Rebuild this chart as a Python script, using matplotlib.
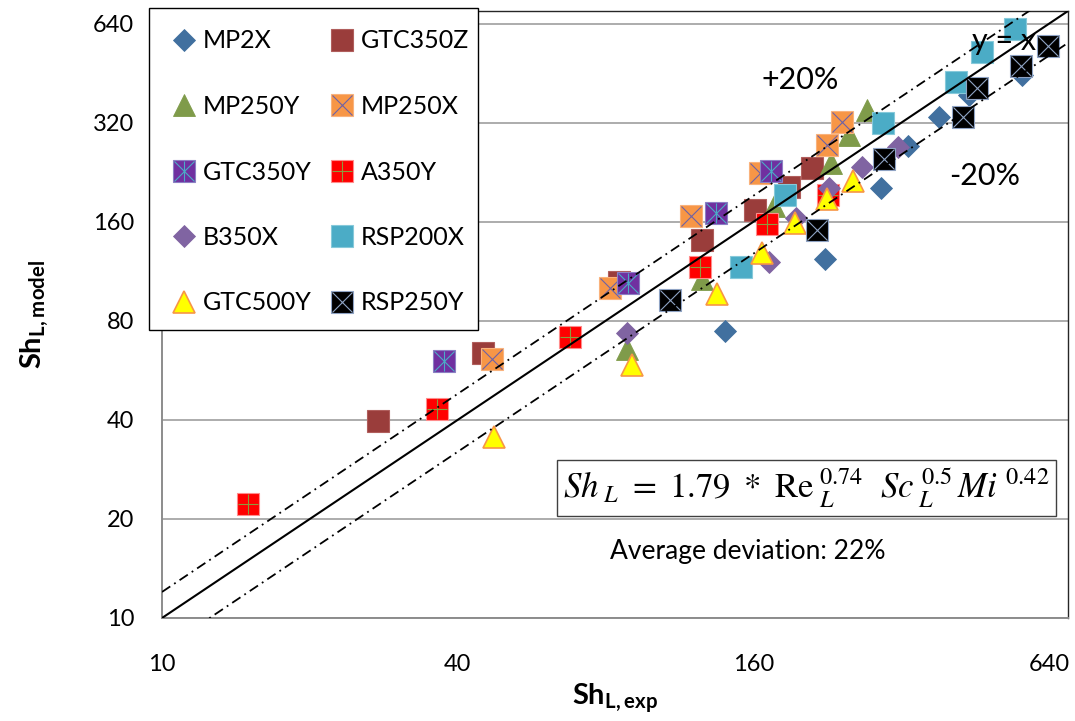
import matplotlib
matplotlib.use("Agg")
import matplotlib.pyplot as plt
from matplotlib.patches import Rectangle
from matplotlib.legend_handler import HandlerTuple

plt.rcParams["font.family"] = ["Lato", "DejaVu Sans"]
plt.rcParams["mathtext.fontset"] = "custom"
plt.rcParams["mathtext.rm"] = "Lato"
plt.rcParams["mathtext.bf"] = "Lato:bold"

# Experimental vs. model Sherwood numbers, one pair of lists per packing
mp2x_exp = [140, 224, 291, 331, 382, 440, 564]
mp2x_mod = [74.6, 123.5, 203, 272, 334, 389, 448]
gtc350z_exp = [27.6, 45, 85.4, 126, 161.6, 189, 211]
gtc350z_mod = [39.7, 64, 105, 141, 174, 204.5, 233]
mp250y_exp = [88.7, 126, 176.5, 230.5, 251, 273]
mp250y_mod = [65.8, 107, 179, 242, 294, 350]
mp250x_exp = [47.1, 81.9, 119.7, 165.3, 226, 243]
mp250x_mod = [61.3, 100.8, 167, 225.5, 274, 322]
gtc350y_exp = [37.6, 89.1, 134.5, 174]
gtc350y_mod = [60.5, 104.4, 170.4, 228.7]
a350y_exp = [15, 36.3, 67.6, 124.8, 170.9, 227]
a350y_mod = [22.2, 43.2, 71.5, 116.8, 157.8, 193]
b350x_exp = [88.7, 172.5, 195.7, 228.5, 266.5, 315.6]
b350x_mod = [73.6, 121, 164.6, 203, 235, 270.5]
rsp200x_exp = [151.3, 185.8, 294, 414, 467.6, 546]
rsp200x_mod = [116.8, 193, 320, 426, 526, 618]
gtc500y_exp = [47.4, 90.8, 135.2, 167, 194.8, 226, 255.5]
gtc500y_mod = [35.5, 58.8, 96.7, 128.8, 158.9, 188, 213]
rsp250y_exp = [108.5, 216, 295.5, 427.8, 457, 561, 637]
rsp250y_mod = [92.7, 151.3, 248.7, 334, 409, 477, 549]

series_names = ["MP2X", "GTC350Z", "MP250Y", "MP250X", "GTC350Y",
                "A350Y", "B350X", "RSP200X", "GTC500Y", "RSP250Y"]
series_data = [
    (mp2x_exp, mp2x_mod), (gtc350z_exp, gtc350z_mod),
    (mp250y_exp, mp250y_mod), (mp250x_exp, mp250x_mod),
    (gtc350y_exp, gtc350y_mod), (a350y_exp, a350y_mod),
    (b350x_exp, b350x_mod), (rsp200x_exp, rsp200x_mod),
    (gtc500y_exp, gtc500y_mod), (rsp250y_exp, rsp250y_mod),
]

x_ticks = [10, 40, 160, 640]
y_ticks = [10, 20, 40, 80, 160, 320, 640]
axis_min, axis_max = 10, 700
band = 0.2

SQ = 15.2   # square / triangle size (pt)
DM = 10.8   # diamond size (pt)

# marker, size, face, edge, edge width, overlay glyphs (marker, colour)
styles = {
    "MP2X":    ("D", DM, "#41709F", "#41709F", 0.6, []),
    "GTC350Z": ("s", SQ, "#9A3D3B", "#B05E5C", 0.8, []),
    "MP250Y":  ("^", SQ, "#7F9B4A", "#7F9B4A", 0.6, []),
    "MP250X":  ("s", SQ, "#F79646", "#F9B27C", 0.8, [("x", "#6E62A6")]),
    "GTC350Y": ("s", SQ, "#7030A0", "#8C7FC4", 0.8, [("x", "#4BACC6"), ("|", "#4BACC6")]),
    "A350Y":   ("s", SQ, "#FF0000", "#FF8C8C", 0.8, [("+", "#8C9C3E")]),
    "B350X":   ("D", DM, "#8064A2", "#8064A2", 0.6, []),
    "RSP200X": ("s", SQ, "#4BACC6", "#86C9DA", 0.8, []),
    "GTC500Y": ("^", SQ, "#FFFF00", "#F79646", 1.2, []),
    "RSP250Y": ("s", SQ, "#000000", "#8FA3C4", 0.8, [("x", "#8FA3C4")]),
}

W, H, DPI = 1075, 721, 100
fig = plt.figure(figsize=(W / DPI, H / DPI), dpi=DPI)
ax = fig.add_axes([162 / W, 1 - 618 / H, 906 / W, 607 / H])
ax.set_xscale("log", base=2)
ax.set_yscale("log", base=2)
ax.set_xlim(axis_min, axis_max)
ax.set_ylim(axis_min, axis_max)

handles = {}
for name, (xs, ys) in zip(series_names, series_data):
    mk, ms, fc, ec, mew, overlays = styles[name]
    main = ax.plot(xs, ys, ls="none", marker=mk, ms=ms, mfc=fc, mec=ec,
                   mew=mew, zorder=3)[0]
    parts = [main]
    for omk, oc in overlays:
        parts.append(ax.plot(xs, ys, ls="none", marker=omk, ms=SQ * 0.98,
                             mec=oc, mew=0.8, zorder=3)[0])
    handles[name] = tuple(parts)

# parity line and +/-20 % band
dashdot = (0, (5.5, 2.6, 1, 2.6))
ref = [axis_min, axis_max]
ax.plot(ref, ref, color="black", lw=1.5, zorder=4)
ax.plot(ref, [v * (1 + band) for v in ref], color="black", lw=1.3,
        ls=dashdot, zorder=4)
ax.plot(ref, [v * (1 - band) for v in ref], color="black", lw=1.3,
        ls=dashdot, zorder=4)

ax.set_xticks(x_ticks)
ax.set_xticklabels([str(t) for t in x_ticks])
ax.set_yticks(y_ticks)
ax.set_yticklabels([str(t) for t in y_ticks])
ax.minorticks_off()
ax.tick_params(axis="both", length=0, labelsize=17)
ax.tick_params(axis="y", pad=20)
ax.tick_params(axis="x", pad=26)
ax.grid(axis="y", color="#A6A6A6", lw=1.3, zorder=0)
ax.set_axisbelow(True)
for side in ("left", "bottom"):
    ax.spines[side].set_color("#8C8C8C")
    ax.spines[side].set_linewidth(1.4)
for side in ("top", "right"):
    ax.spines[side].set_color("#262626")
    ax.spines[side].set_linewidth(1.0)

ax.set_xlabel(r"$\mathbf{Sh_{L,exp}}$", fontsize=21, labelpad=4)
ax.set_ylabel(r"$\mathbf{Sh_{L,model}}$", fontsize=21, labelpad=30)

ax.text(0.704, 0.886, "+20%", transform=ax.transAxes, fontsize=22,
        ha="center", va="center", zorder=5)
ax.text(0.908, 0.728, "-20%", transform=ax.transAxes, fontsize=22,
        ha="center", va="center", zorder=5)
ax.text(0.929, 0.950, "y = x", transform=ax.transAxes, fontsize=22,
        ha="center", va="center", zorder=5)

ax.text(0.711, 0.214,
        r"$Sh_{\ L}\ =\ 1.79\ *\ \mathrm{Re}_{\ L}^{\ 0.74}\ \ Sc_{\ L}^{\ 0.5}\,Mi^{\ 0.42}$",
        transform=ax.transAxes, fontsize=25, ha="center", va="center",
        math_fontfamily="stix", zorder=6,
        bbox=dict(boxstyle="square,pad=0.18", fc="white", ec="#404040", lw=1.0))
ax.text(0.646, 0.109, "Average deviation: 22%", transform=ax.transAxes,
        fontsize=19, ha="center", va="center", zorder=6)

# legend box: white panel with a thin black border, entries laid out inside
fig.add_artist(Rectangle((149 / W, 1 - 330 / H), 329 / W, 322 / H,
                         transform=fig.transFigure, fc="white", ec="black",
                         lw=1.0, zorder=4))
order = ["MP2X", "MP250Y", "GTC350Y", "B350X", "GTC500Y",
         "GTC350Z", "MP250X", "A350Y", "RSP200X", "RSP250Y"]
leg = fig.legend([handles[n] for n in order], order,
                 handler_map={tuple: HandlerTuple(ndivide=1)},
                 loc="upper left", bbox_to_anchor=(172.5 / W, 1 - 29.5 / H),
                 bbox_transform=fig.transFigure, ncol=2, fontsize=18,
                 frameon=False, borderpad=0, labelspacing=1.7,
                 handlelength=0.9, handletextpad=0.3, columnspacing=0.78,
                 borderaxespad=0)
leg.set_zorder(5)

fig.savefig("out.png", dpi=DPI)
